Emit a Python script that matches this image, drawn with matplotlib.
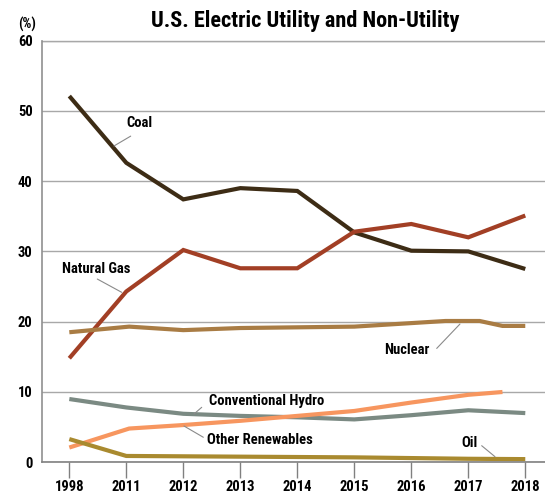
import matplotlib
matplotlib.use('Agg')
import matplotlib.pyplot as plt
from matplotlib import font_manager

# Pick a narrow bold face if one is installed
font_files = [f.fname for f in font_manager.fontManager.ttflist]
preferred = ['LiberationSansNarrow-Bold.', 'RobotoCondensed-Bold.', 'Roboto_Condensed-Bold',
             'NotoSans-CondensedBold.', 'DejaVuSansCondensed-Bold.', 'OpenSans-CondensedBold',
             'Roboto-Bold.', 'Lato-Bold.']
bold_file = None
for key in preferred:
    hits = [p for p in font_files if key in p.split('/')[-1]]
    if hits:
        bold_file = hits[0]
        break


def fp(size):
    if bold_file:
        return font_manager.FontProperties(fname=bold_file, size=size)
    return font_manager.FontProperties(family='DejaVu Sans', weight='bold', size=size)


# Category labels along the x axis (equally spaced)
years = ['1998', '2011', '2012', '2013', '2014', '2015', '2016', '2017', '2018']
year_pos = list(range(len(years)))

# Shares of generation (%)
coal = [52.1, 42.6, 37.4, 39.0, 38.6, 32.7, 30.1, 30.0, 27.5]
natural_gas = [14.8, 24.3, 30.2, 27.6, 27.6, 32.8, 33.9, 32.0, 35.1]
nuclear_x = [0, 1.05, 2, 3, 4, 5, 6.6, 7.2, 7.6, 8]
nuclear = [18.5, 19.3, 18.8, 19.1, 19.2, 19.3, 20.1, 20.1, 19.4, 19.4]
hydro = [9.0, 7.8, 6.9, 6.6, 6.4, 6.1, 6.7, 7.4, 7.0]
renew_x = [0, 1.05, 2, 3, 4, 5, 6, 7, 7.6]
other_renewables = [2.1, 4.8, 5.3, 5.9, 6.6, 7.3, 8.5, 9.6, 10.0]
oil = [3.3, 0.9, 0.85, 0.8, 0.75, 0.7, 0.6, 0.5, 0.45]

fig = plt.figure(figsize=(5.45, 4.93), dpi=100)
ax = fig.add_axes([0.0776, 0.0623, 0.9224, 0.8555])

line_kw = dict(linewidth=3.0, solid_joinstyle='miter', solid_capstyle='butt')
ax.plot(year_pos, coal, color='#3d2c15', **line_kw)
ax.plot(year_pos, natural_gas, color='#a23f25', **line_kw)
ax.plot(nuclear_x, nuclear, color='#a97c44', **line_kw)
ax.plot(year_pos, hydro, color='#7b8a83', **line_kw)
ax.plot(renew_x, other_renewables, color='#f7965f', **line_kw)
ax.plot(year_pos, oil, color='#a98a2f', **line_kw)

ax.set_xlim(-0.474, 8.346)
ax.set_ylim(0, 60)
ax.set_yticks(range(0, 61, 10))
ax.set_xticks(year_pos)
ax.set_xticklabels(years)

# Axes styling
ax.yaxis.grid(True, color='#a8a8a8', linewidth=1.0)
ax.set_axisbelow(True)
for side in ['top', 'right']:
    ax.spines[side].set_visible(False)
ax.spines['left'].set_color('#909090')
ax.spines['bottom'].set_color('#808080')
ax.spines['left'].set_linewidth(1.2)
ax.spines['bottom'].set_linewidth(1.2)
ax.axhline(60, color='#a8a8a8', linewidth=1.0, clip_on=False)
ax.tick_params(axis='y', length=0, pad=7)
ax.tick_params(axis='x', length=11.5, width=1.0, color='#808080', pad=1.5)
for lab in ax.get_xticklabels() + ax.get_yticklabels():
    lab.set_fontproperties(fp(10.5))

# Title and unit label
fig.text(0.56, 0.957, 'U.S. Electric Utility and Non-Utility', ha='center', va='center',
         fontproperties=fp(16))
fig.text(0.0495, 0.951, '(%)', ha='center', va='center', fontproperties=fp(10))

# Series labels with thin leader lines
leader = dict(arrowstyle='-', color='#8a8a8a', linewidth=0.8, shrinkA=0, shrinkB=0)
labels = [
    # text, text position, alignment, leader start, leader end
    ('Coal', (1.223, 48.3), 'center', (1.077, 46.4), (0.784, 45.0)),
    ('Natural Gas', (0.463, 27.45), 'center', (0.491, 26.07), (0.919, 24.18)),
    ('Nuclear', (5.92, 15.97), 'center', (6.446, 16.2), (6.854, 19.67)),
    ('Conventional Hydro', (2.451, 8.76), 'left', (2.323, 7.82), (2.188, 6.87)),
    ('Other Renewables', (2.421, 3.17), 'left', (2.351, 3.56), (2.012, 5.16)),
    ('Oil', (7.03, 2.70), 'center', (7.235, 2.36), (7.468, 0.80)),
]
for text, pos, align, start, end in labels:
    ax.text(pos[0], pos[1], text, ha=align, va='center', fontproperties=fp(10.5))
    ax.annotate('', xy=end, xytext=start, arrowprops=leader)

fig.savefig('out.png', dpi=100)
